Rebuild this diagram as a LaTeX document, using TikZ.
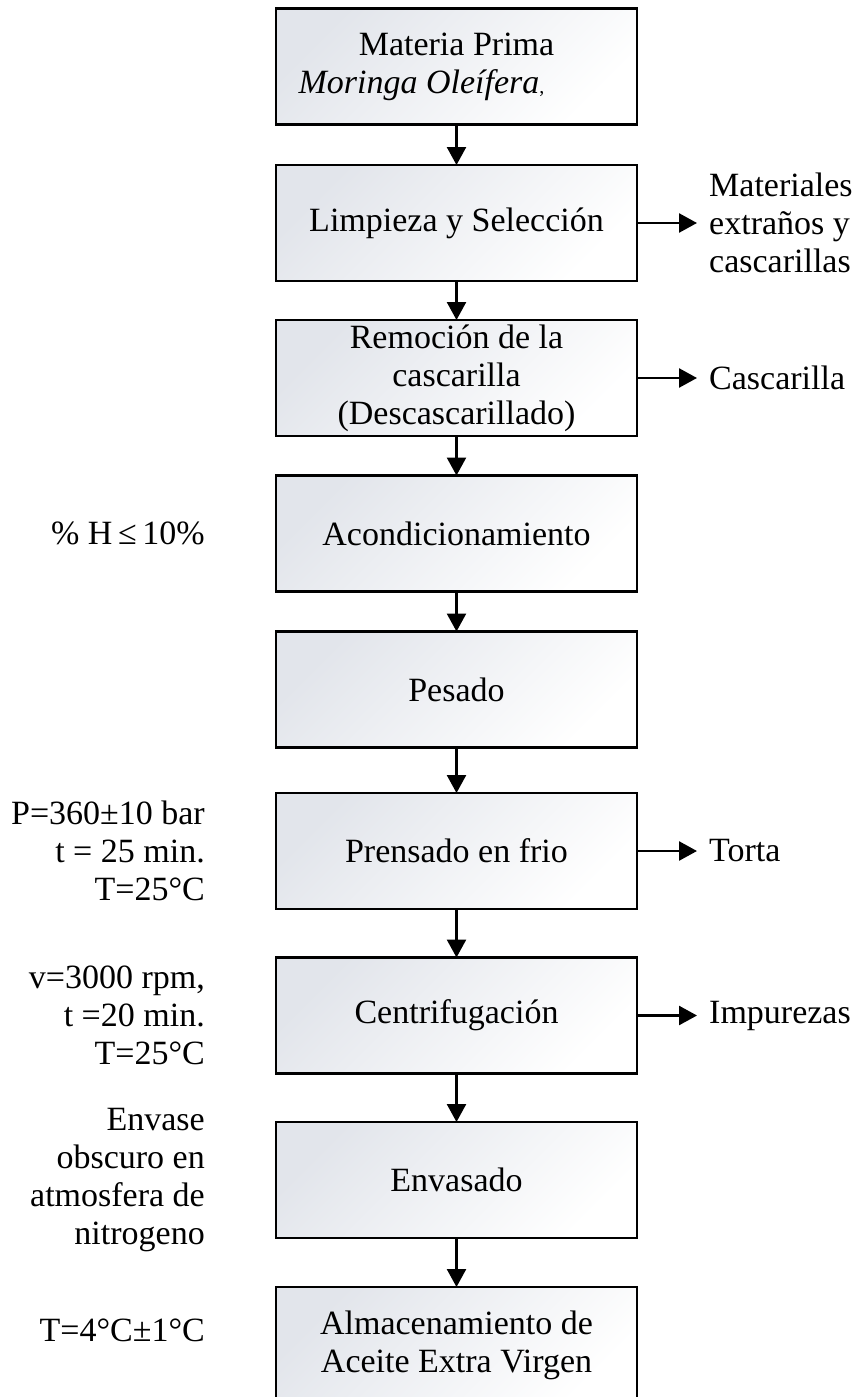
\documentclass[tikz,border=0pt]{standalone}
\usepackage{fontspec}
\setmainfont{Liberation Serif}
\usetikzlibrary{positioning,arrows.meta}
\definecolor{boxgray}{RGB}{226,229,235}
\tikzset{
    process-box/.style = {draw=black, line width=2.7pt, rectangle, minimum width=361pt, minimum height=116pt, outer sep=0pt, inner sep=0pt, align=center, top color=boxgray, bottom color=white, shading angle=45},
    out-label/.style = {inner xsep=12pt, inner ysep=0pt, align=left},
    cond-label/.style = {inner sep=0pt, align=right},
    flow-arrow/.style = {-{Triangle[length=18pt,width=19pt]}, line width=2.5pt},
}

\begin{document}
\begin{tikzpicture}[x=1pt, y=-1pt, every node/.style={font=\fontsize{34}{38}\selectfont}]
\useasboundingbox (0,0) rectangle (853,1397);

% process steps
\node[process-box] (materia) at (456.5,66.5) {Materia Prima\\\textit{Moringa Oleífera}{\fontsize{20}{20}\selectfont ,}\hspace*{70pt}};
\node[process-box] (limpieza) at (456.5,223) {Limpieza y Selección};
\node[process-box] (remocion) at (456.5,378) {Remoción de la\\cascarilla\\(Descascarillado)};
\node[process-box] (acond) at (456.5,533.5) {Acondicionamiento};
\node[process-box] (pesado) at (456.5,689.5) {Pesado};
\node[process-box] (prensado) at (456.5,851) {Prensado en frio};
\node[process-box] (centrif) at (456.5,1015.5) {Centrifugación};
\node[process-box] (envasado) at (456.5,1180) {Envasado};
\node[process-box] (almacen) at (456.5,1345) {Almacenamiento de\\Aceite Extra Virgen};

% outputs
\node[out-label, right=60pt of limpieza] (extranos) {Materiales\\extraños y\\cascarillas};
\node[out-label, right=60pt of remocion] (cascarilla) {Cascarilla};
\node[out-label, right=60pt of prensado] (torta) {Torta};
\node[out-label, right=60pt of centrif] (impurezas) {Impurezas};

% conditions
\node[cond-label, left=71pt of acond] (humedad) {\%\ H\,≤\,10\%};
\node[cond-label, left=71pt of prensado] (presion) {P=360±10 bar\\t = 25 min.\\T=25°C};
\node[cond-label, left=71pt of centrif] (veloc) {v=3000 rpm,\\t =20 min.\\T=25°C};
\node[cond-label, left=71pt of envasado] (envase) {Envase\\obscuro en\\atmosfera de\\nitrogeno};
\node[cond-label, left=71pt of almacen, yshift=15pt] (temp) {T=4°C±1°C};

\draw[flow-arrow] (materia) -- (limpieza);
\draw[flow-arrow] (limpieza) -- (remocion);
\draw[flow-arrow] (remocion) -- (acond);
\draw[flow-arrow] (acond) -- (pesado);
\draw[flow-arrow] (pesado) -- (prensado);
\draw[flow-arrow] (prensado) -- (centrif);
\draw[flow-arrow] (centrif) -- (envasado);
\draw[flow-arrow] (envasado) -- (almacen);

\draw[flow-arrow] (limpieza) -- (extranos);
\draw[flow-arrow] (remocion) -- (cascarilla);
\draw[flow-arrow] (prensado) -- (torta);
\draw[flow-arrow] (centrif) -- (impurezas);
\end{tikzpicture}
\end{document}
